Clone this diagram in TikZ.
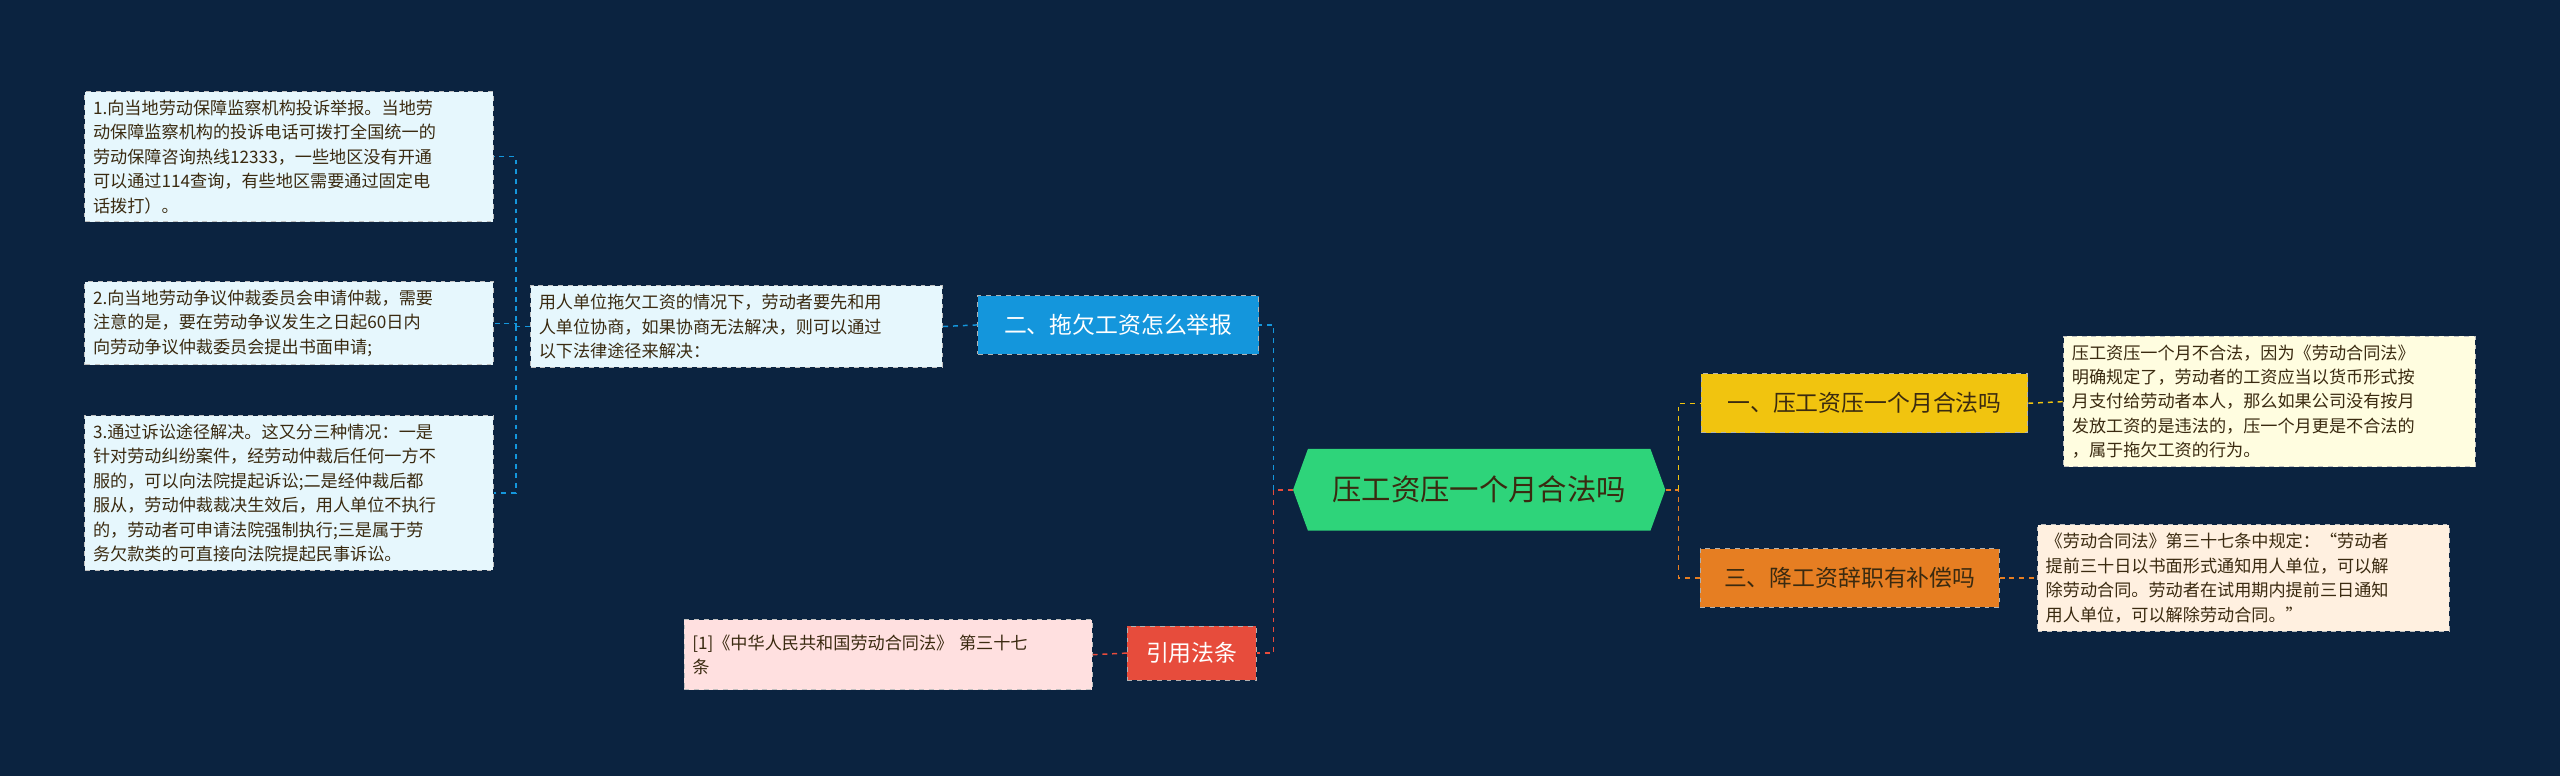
\documentclass[tikz,border=0pt]{standalone}
\usepackage{fontspec}
\setmainfont{Noto Sans CJK SC}
\usetikzlibrary{shapes.symbols}
\definecolor{bgnavy}{HTML}{0B2340}
\definecolor{rootgreen}{HTML}{2ED47A}
\definecolor{ylw}{HTML}{F1C40F}
\definecolor{orng}{HTML}{E67E22}
\definecolor{blu}{HTML}{1496DC}
\definecolor{rd}{HTML}{E74C3C}
\definecolor{txtdark}{HTML}{3A2A10}
\begin{document}
\begin{tikzpicture}[x=1pt,y=-1pt,
  box/.style={draw=white!75!black,dashed,line width=0.6pt,inner sep=5pt,align=left,font=\fontsize{10.5}{15}\selectfont,text=txtdark},
  branch/.style={draw=white!70!black,dashed,line width=0.6pt,inner sep=6pt,font=\fontsize{14}{16}\selectfont},
  link/.style={dashed,line width=0.9pt}]
  \fill[bgnavy] (0,0) rectangle (1568,475);
  % root
  \node[signal,signal to=east and west,signal pointer angle=140,fill=rootgreen,text=txtdark,
    minimum width=228pt,minimum height=50pt,font=\fontsize{18}{20}\selectfont] (root) at (906,300) {压工资压一个月合法吗};
  % right side
  \node[branch,fill=ylw,text=txtdark,minimum width=200pt,minimum height=36pt] (b1) at (1142,247) {一、压工资压一个月合法吗};
  \node[box,fill=yellow!12,text width=242pt] (l1) at (1390,246) {压工资压一个月不合法，因为《劳动合同法》\\明确规定了，劳动者的工资应当以货币形式按\\月支付给劳动者本人，那么如果公司没有按月\\发放工资的是违法的，压一个月更是不合法的\\，属于拖欠工资的行为。};
  \node[branch,fill=orng,text=txtdark,minimum width=183pt,minimum height=36pt] (b3) at (1133,354) {三、降工资辞职有补偿吗};
  \node[box,fill=orange!12,text width=242pt] (l3) at (1374,354) {《劳动合同法》第三十七条中规定：“劳动者\\提前三十日以书面形式通知用人单位，可以解\\除劳动合同。劳动者在试用期内提前三日通知\\用人单位，可以解除劳动合同。”};
  % left side
  \node[branch,fill=blu,text=white,minimum width=172pt,minimum height=36pt] (b2) at (685,199) {二、拖欠工资怎么举报};
  \node[box,fill=cyan!10,text width=242pt] (l2) at (451,200) {用人单位拖欠工资的情况下，劳动者要先和用\\人单位协商，如果协商无法解决，则可以通过\\以下法律途径来解决：};
  \node[box,fill=cyan!10,text width=240pt] (s1) at (177,96) {1.向当地劳动保障监察机构投诉举报。当地劳\\动保障监察机构的投诉电话可拨打全国统一的\\劳动保障咨询热线12333，一些地区没有开通\\可以通过114查询，有些地区需要通过固定电\\话拨打）。};
  \node[box,fill=cyan!10,text width=240pt] (s2) at (177,198) {2.向当地劳动争议仲裁委员会申请仲裁，需要\\注意的是，要在劳动争议发生之日起60日内\\向劳动争议仲裁委员会提出书面申请;};
  \node[box,fill=cyan!10,text width=240pt] (s3) at (177,302) {3.通过诉讼途径解决。这又分三种情况：一是\\针对劳动纠纷案件，经劳动仲裁后任何一方不\\服的，可以向法院提起诉讼;二是经仲裁后都\\服从，劳动仲裁裁决生效后，用人单位不执行\\的，劳动者可申请法院强制执行;三是属于劳\\务欠款类的可直接向法院提起民事诉讼。};
  \node[branch,fill=rd,text=white,minimum width=79pt,minimum height=33pt] (cite) at (730,400) {引用法条};
  \node[box,fill=red!12,text width=240pt,minimum height=43pt] (l4) at (544,401) {[1]《中华人民共和国劳动合同法》 第三十七\\条};
  % connectors
  \draw[link,orng] (root.east) -- (1028,300) |- (b3.west);
  \draw[link,ylw] (1028,300) |- (b1.west);
  \draw[link,ylw] (b1.east) -- (l1.west);
  \draw[link,orng] (b3.east) -- (l3.west);
  \draw[link,rd] (root.west) -- (780,300) |- (cite.east);
  \draw[link,blu] (780,300) |- (b2.east);
  \draw[link,blu] (b2.west) -- (l2.west -| l2.east);
  \draw[link,rd] (cite.west) -- (l4.east);
  \draw[link,blu] (l2.west) -- (316,200) |- (s1.east);
  \draw[link,blu] (316,200) |- (s2.east);
  \draw[link,blu] (316,200) |- (s3.east);
\end{tikzpicture}
\end{document}
